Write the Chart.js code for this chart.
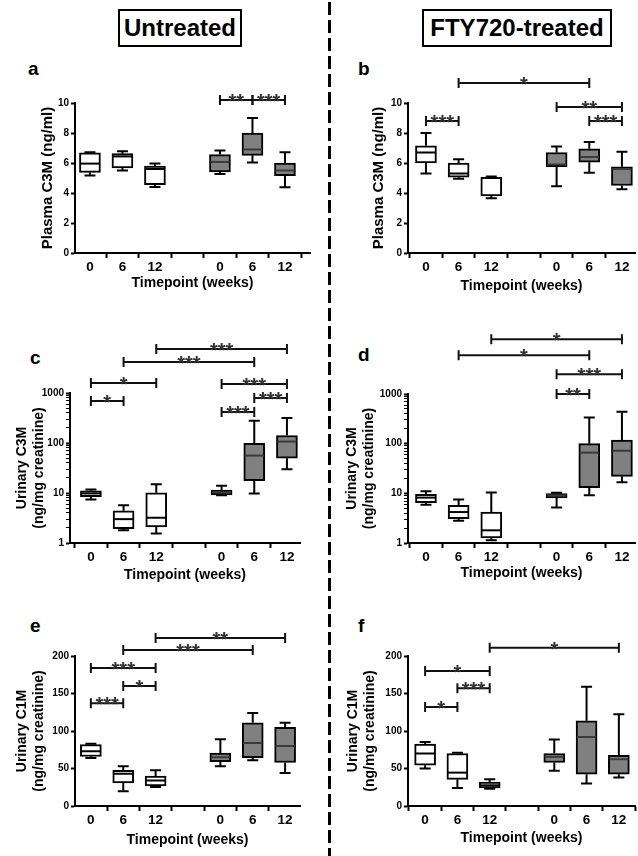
<!DOCTYPE html>
<html><head><meta charset="utf-8">
<script src="https://cdn.jsdelivr.net/npm/chart.js@4"></script>
<style>
html,body{margin:0;padding:0;background:#fff;}
body{width:638px;height:856px;position:relative;overflow:hidden;font-family:'Liberation Sans',Arial,Helvetica,sans-serif;}
.hdr{position:absolute;border:2px solid #000;font-weight:bold;font-size:24px;line-height:33px;text-align:center;box-sizing:border-box;color:#000;white-space:nowrap;}
.lbl{position:absolute;font-weight:bold;font-size:19px;line-height:19px;color:#000;}
#divider{position:absolute;left:328px;top:2px;width:3px;height:856px;background:repeating-linear-gradient(to bottom,#000 0,#000 13px,transparent 13px,transparent 18px);}
</style></head><body>
<div class="hdr" style="left:118px;top:9px;width:124px;height:38px;">Untreated</div>
<div class="hdr" style="left:422px;top:9px;width:190px;height:38px;">FTY720-treated</div>
<div id="divider"></div>
<div class="lbl" style="left:28px;top:59px;">a</div>
<div class="lbl" style="left:358px;top:59px;">b</div>
<div class="lbl" style="left:30px;top:348px;">c</div>
<div class="lbl" style="left:358px;top:345px;">d</div>
<div class="lbl" style="left:30px;top:616px;">e</div>
<div class="lbl" style="left:358px;top:616px;">f</div>
<script>
// ---------- data ----------
const xLabels = ['0', '6', '12', '', '0', '6', '12'];
const cohort  = ['A', 'A', 'A', '', 'B', 'B', 'B'];

// a: Plasma C3M, untreated
const aMin = [5.16, 5.5, 4.4, null, 5.27, 6.04, 4.38];
const aQ1  = [5.38, 5.67, 4.56, null, 5.4, 6.51, 5.16];
const aMed = [5.96, 6.44, 5.6, null, 6.07, 6.9, 5.5];
const aQ3  = [6.67, 6.62, 5.8, null, 6.56, 8.0, 6.0];
const aMax = [6.71, 6.78, 5.96, null, 6.84, 9.0, 6.71];
const aSig = [[4, 5, 10.2, '**'], [5, 6, 10.2, '***']];

// b: Plasma C3M, FTY720-treated
const bMin = [5.3, 4.95, 3.65, null, 4.45, 5.35, 4.25];
const bQ1  = [6.0, 5.05, 3.8, null, 5.75, 6.05, 4.5];
const bMed = [6.7, 5.3, 5.0, null, 5.9, 6.4, 5.6];
const bQ3  = [7.15, 6.0, 5.05, null, 6.7, 6.95, 5.75];
const bMax = [8.0, 6.25, 5.1, null, 7.1, 7.4, 6.75];
const bSig = [[1, 5, 11.33, '*'], [0, 1, 8.8, '***'], [4, 6, 9.73, '**'], [5, 6, 8.8, '***']];

// c: Urinary C3M, untreated
const cMin = [7.4, 1.8, 1.54, null, 9.0, 9.8, 29.8];
const cQ1  = [8.4, 1.94, 2.1, null, 9.2, 17.6, 49.5];
const cMed = [9.8, 3.0, 3.2, null, 10.3, 56, 107];
const cQ3  = [11.1, 4.4, 10.1, null, 11.5, 99, 141];
const cMax = [11.8, 5.7, 14.9, null, 14, 278, 315];
const cSig = [[0, 1, 692, '*'], [0, 2, 1585, '*'], [1, 5, 4169, '***'], [2, 6, 7586, '***'],
              [4, 5, 417, '***'], [5, 6, 794, '***'], [4, 6, 1514, '***']];

// d: Urinary C3M, FTY720-treated
const dMin = [5.9, 2.8, 1.13, null, 5.2, 9.1, 16.8];
const dQ1  = [6.5, 3.1, 1.26, null, 8.1, 13, 22];
const dMed = [8.2, 4.2, 1.8, null, 9.1, 66, 72];
const dQ3  = [9.6, 5.75, 4.2, null, 9.9, 100, 118];
const dMax = [11, 7.5, 10.4, null, 10.3, 337, 440];
const dSig = [[2, 6, 12589, '*'], [1, 5, 6026, '*'], [4, 6, 2512, '***'], [4, 5, 1000, '**']];

// e: Urinary C1M, untreated
const eMin = [64, 19.6, 25.3, null, 53, 61, 44];
const eQ1  = [66, 30.7, 26.7, null, 59, 64.4, 58];
const eMed = [73, 43, 34, null, 65, 84, 80];
const eQ3  = [82, 47.6, 40, null, 70.7, 111, 105];
const eMax = [83, 53, 47.6, null, 89, 124, 111];
const eSig = [[2, 6, 224, '**'], [1, 5, 208, '***'], [0, 2, 184, '***'], [1, 2, 160, '*'], [0, 1, 137, '***']];

// f: Urinary C1M, FTY720-treated
const fMin = [50, 24, 23, null, 47, 30, 38];
const fQ1  = [54.3, 35.6, 24, null, 58, 42.3, 42.3];
const fMed = [70, 44.5, 27.6, null, 65.5, 92, 62.4];
const fQ3  = [82.4, 70, 32, null, 70, 113.6, 67.7];
const fMax = [85.5, 71, 35.6, null, 88.6, 159, 122.5];
const fSig = [[2, 6, 211, '*'], [0, 2, 180, '*'], [1, 2, 157, '***'], [0, 1, 132, '*']];

const logTicks = [1, 10, 100, 1000];

// ---------- drawing ----------
const FONT = "'Liberation Sans', Arial, Helvetica, sans-serif";
const GRAY = '#808080';
const BOXW = 21;

function isDecade(v) { const l = Math.log10(v); return Math.abs(l - Math.round(l)) < 1e-9; }

function makePanel(p) {
  const cv = document.createElement('canvas');
  cv.width = p.cw; cv.height = p.ch;
  cv.style.cssText = `position:absolute;left:${p.cx}px;top:${p.cy}px;width:${p.cw}px;height:${p.ch}px;`;
  document.body.appendChild(cv);

  const idx = xLabels.map((_, i) => i).filter(i => p.q1[i] != null);

  const boxPlugin = {
    id: 'boxes',
    beforeDatasetsDraw(chart) {
      const ctx = chart.ctx, xs = chart.scales.x, ys = chart.scales.y;
      ctx.save();
      ctx.strokeStyle = '#000'; ctx.lineWidth = 2; ctx.lineCap = 'butt';
      idx.forEach(i => {
        const x = xs.getPixelForValue(i);
        const yMax = ys.getPixelForValue(p.max[i]), yQ3 = ys.getPixelForValue(p.q3[i]);
        const yMin = ys.getPixelForValue(p.min[i]), yQ1 = ys.getPixelForValue(p.q1[i]);
        ctx.beginPath();
        ctx.moveTo(x, yQ3); ctx.lineTo(x, yMax);
        ctx.moveTo(x - 5.5, yMax); ctx.lineTo(x + 5.5, yMax);
        ctx.moveTo(x, yQ1); ctx.lineTo(x, yMin);
        ctx.moveTo(x - 5.5, yMin); ctx.lineTo(x + 5.5, yMin);
        ctx.stroke();
      });
      ctx.restore();
    },
    afterDatasetsDraw(chart) {
      const ctx = chart.ctx, xs = chart.scales.x, ys = chart.scales.y;
      ctx.save();
      idx.forEach(i => {
        const x = xs.getPixelForValue(i), y = ys.getPixelForValue(p.med[i]);
        ctx.strokeStyle = cohort[i] === 'B' ? '#3a3a3a' : '#000';
        ctx.lineWidth = 2;
        ctx.beginPath(); ctx.moveTo(x - BOXW / 2 + 1, y); ctx.lineTo(x + BOXW / 2 - 1, y); ctx.stroke();
      });
      ctx.strokeStyle = '#111'; ctx.lineWidth = 2;
      ctx.fillStyle = '#333';
      ctx.font = 'bold 20px ' + FONT;
      ctx.textAlign = 'center'; ctx.textBaseline = 'alphabetic';
      p.sig.forEach(([a, b, lvl, txt]) => {
        const x1 = xs.getPixelForValue(a), x2 = xs.getPixelForValue(b), y = ys.getPixelForValue(lvl);
        ctx.beginPath();
        ctx.moveTo(x1, y); ctx.lineTo(x2, y);
        ctx.moveTo(x1, y - 5); ctx.lineTo(x1, y + 5);
        ctx.moveTo(x2, y - 5); ctx.lineTo(x2, y + 5);
        ctx.stroke();
        ctx.fillText(txt, (x1 + x2) / 2, y + 8);
      });
      ctx.restore();
    }
  };

  const yScale = p.log ? {
    type: 'logarithmic', min: 1, max: 1000,
    afterBuildTicks(s) {
      const t = [];
      for (let d = 0; d < logTicks.length - 1; d++)
        for (let k = 1; k < 10; k++) t.push({ value: k * logTicks[d] });
      t.push({ value: logTicks[logTicks.length - 1] });
      s.ticks = t;
    },
    ticks: { autoSkip: false, padding: 2, color: '#000', font: { size: 10, weight: 'bold', family: FONT },
             callback: v => isDecade(v) ? String(v) : '' },
    grid: { display: true, drawOnChartArea: false, drawTicks: true, tickLength: 4, tickColor: '#000',
            tickWidth: c => (c.tick && isDecade(c.tick.value)) ? 2 : 1 }
  } : {
    type: 'linear', min: p.yMin, max: p.yMax,
    ticks: { stepSize: p.yStep, autoSkip: false, padding: 2, color: '#000', font: { size: 10, weight: 'bold', family: FONT } },
    grid: { display: true, drawOnChartArea: false, drawTicks: true, tickLength: 4, tickColor: '#000', tickWidth: 2 }
  };
  Object.assign(yScale, {
    border: { display: true, color: '#000', width: 2 },
    title: { display: true, text: p.yTitle, color: '#000',
             font: { size: p.yTitleSize, weight: 'bold', family: FONT, lineHeight: 1.2 },
             padding: { top: p.yTitlePad, bottom: 0 } },
    afterFit(s) { s.width = p.L - p.cx; }
  });

  new Chart(cv, {
    type: 'bar',
    data: {
      datasets: [{
        data: idx.map(i => ({ x: i, y: [p.q1[i], p.q3[i]] })),
        backgroundColor: idx.map(i => cohort[i] === 'B' ? GRAY : '#ffffff'),
        borderColor: '#000', borderWidth: 2, borderSkipped: false,
        barThickness: BOXW, grouped: false
      }]
    },
    options: {
      responsive: false, animation: false, events: [],
      layout: { padding: { left: 0, top: p.T - p.cy, right: p.cx + p.cw - p.R, bottom: 0 } },
      plugins: { legend: { display: false }, tooltip: { enabled: false } },
      scales: {
        x: {
          type: 'linear', min: p.xMin, max: p.xMax, offset: false,
          border: { display: true, color: '#000', width: 2 },
          grid: { display: true, drawOnChartArea: false, drawTicks: true, tickLength: 5, tickColor: '#000', tickWidth: 2 },
          ticks: { stepSize: 1, includeBounds: false, autoSkip: false, maxRotation: 0, padding: 1, color: '#000',
                   font: { size: 13.5, weight: 'bold', family: FONT },
                   callback: v => (Number.isInteger(v) && v >= 0 && v < xLabels.length) ? xLabels[v] : null },
          title: { display: true, text: 'Timepoint (weeks)', color: '#000',
                   font: { size: 14, weight: 'bold', family: FONT, lineHeight: 1.2 },
                   padding: { top: 0, bottom: p.xTitlePad } },
          afterFit(s) { s.height = p.cy + p.ch - p.B; }
        },
        y: yScale
      }
    },
    plugins: [boxPlugin]
  });
}

makePanel({ min: aMin, q1: aQ1, med: aMed, q3: aQ3, max: aMax, sig: aSig,
  log: false, yMin: 0, yMax: 10, yStep: 2, yTitle: 'Plasma C3M (ng/ml)', yTitleSize: 15,
  cx: 0, cy: 56, cw: 322, ch: 244, L: 75, R: 310, T: 103, B: 253,
  xMin: -0.46, xMax: 6.77, yTitlePad: 38.5, xTitlePad: 8.6 });

makePanel({ min: bMin, q1: bQ1, med: bMed, q3: bQ3, max: bMax, sig: bSig,
  log: false, yMin: 0, yMax: 10, yStep: 2, yTitle: 'Plasma C3M (ng/ml)', yTitleSize: 15,
  cx: 338, cy: 56, cw: 300, ch: 244, L: 408, R: 635, T: 103, B: 253,
  xMin: -0.55, xMax: 6.4, yTitlePad: 32, xTitlePad: 5.6 });

makePanel({ min: cMin, q1: cQ1, med: cMed, q3: cQ3, max: cMax, sig: cSig,
  log: true, yTitle: ['Urinary C3M', '(ng/mg creatinine)'], yTitleSize: 14,
  cx: 0, cy: 320, cw: 322, ch: 270, L: 70, R: 300, T: 393, B: 543,
  xMin: -0.64, xMax: 6.4, yTitlePad: 13.6, xTitlePad: 6.6 });

makePanel({ min: dMin, q1: dQ1, med: dMed, q3: dQ3, max: dMax, sig: dSig,
  log: true, yTitle: ['Urinary C3M', '(ng/mg creatinine)'], yTitleSize: 14,
  cx: 338, cy: 320, cw: 300, ch: 270, L: 408, R: 635, T: 394, B: 543,
  xMin: -0.55, xMax: 6.4, yTitlePad: 5.6, xTitlePad: 8.6 });

makePanel({ min: eMin, q1: eQ1, med: eMed, q3: eQ3, max: eMax, sig: eSig,
  log: false, yMin: 0, yMax: 200, yStep: 50, yTitle: ['Urinary C1M', '(ng/mg creatinine)'], yTitleSize: 14,
  cx: 0, cy: 600, cw: 322, ch: 256, L: 75, R: 300, T: 656, B: 806,
  xMin: -0.49, xMax: 6.46, yTitlePad: 13.6, xTitlePad: 7.6 });

makePanel({ min: fMin, q1: fQ1, med: fMed, q3: fQ3, max: fMax, sig: fSig,
  log: false, yMin: 0, yMax: 200, yStep: 50, yTitle: ['Urinary C1M', '(ng/mg creatinine)'], yTitleSize: 14,
  cx: 338, cy: 600, cw: 300, ch: 256, L: 408, R: 635, T: 656, B: 806,
  xMin: -0.53, xMax: 6.5, yTitlePad: 6.6, xTitlePad: 9.6 });
</script>
</body></html>
